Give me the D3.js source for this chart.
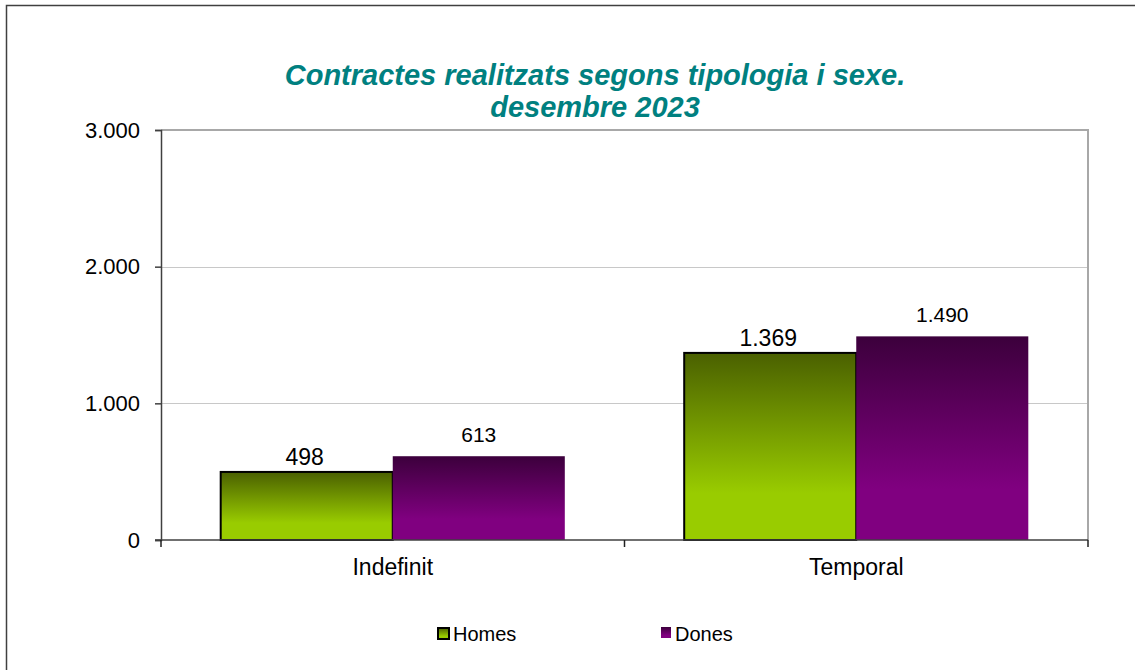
<!DOCTYPE html>
<html>
<head>
<meta charset="utf-8">
<script src="https://cdn.jsdelivr.net/npm/d3@7"></script>
<style>
  body { margin: 0; background: #fff; }
  svg { display: block; font-family: Arial, "Liberation Sans", sans-serif; }
</style>
</head>
<body>
<div id="chart"></div>
<script>
let width = 1135;
let height = 670;
let margin = ({top: 130, right: 47, bottom: 130, left: 161});

// data
let categories = ["Indefinit", "Temporal"];
let series = ["Homes", "Dones"];
let homes = [498, 1369];
let dones = [613, 1490];
let yTicks = [0, 1000, 2000, 3000];
let titleLines = ["Contractes realitzats segons tipologia i sexe.", "desembre 2023"];

let values = {Homes: homes, Dones: dones};
let data = categories.map((c, i) => ({cat: c, vals: series.map(s => ({key: s, value: values[s][i]}))}));

let fmt = d3.formatLocale({decimal: ",", thousands: ".", grouping: [3]}).format(",");

let x = d3.scaleBand()
    .domain(categories)
    .range([margin.left, width - margin.right])
    .paddingInner(0).paddingOuter(0);
let x1 = d3.scaleBand()
    .domain(series)
    .range([0, x.bandwidth()])
    .paddingInner(0)
    .paddingOuter(0.347);
let y = d3.scaleLinear()
    .domain([0, 3000])
    .range([height - margin.bottom, margin.top]);

let svg = d3.select("#chart").append("svg")
    .attr("width", width)
    .attr("height", height)
    .attr("viewBox", [0, 0, width, height]);

let defs = svg.append("defs");
function grad(id, top, bottom) {
  let g = defs.append("linearGradient").attr("id", id)
      .attr("x1", 0).attr("y1", 0).attr("x2", 0).attr("y2", 1);
  g.append("stop").attr("offset", "0%").attr("stop-color", top);
  g.append("stop").attr("offset", "75%").attr("stop-color", bottom);
  g.append("stop").attr("offset", "100%").attr("stop-color", bottom);
}
grad("gHomes", "#4a6000", "#99cc00");
grad("gDones", "#3c003c", "#800080");
let fills = {Homes: "url(#gHomes)", Dones: "url(#gDones)"};

// outer frame (only left and top visible)
svg.append("path")
    .attr("d", `M6.5,${height + 5}V5.5H${width + 5}`)
    .attr("fill", "none")
    .attr("stroke", "#404040")
    .attr("stroke-width", 1.5);

// title
svg.append("g")
    .attr("fill", "#008080")
    .attr("font-size", 29)
    .attr("font-weight", "bold")
    .attr("font-style", "italic")
    .attr("text-anchor", "middle")
    .selectAll("text")
    .data(titleLines)
    .join("text")
    .attr("x", 595)
    .attr("y", (d, i) => 85 + i * 32)
    .text(d => d);

// gridlines
svg.append("g")
    .attr("stroke", "#c8c8c8")
    .selectAll("line")
    .data(yTicks.filter(t => t > 0 && t < 3000))
    .join("line")
    .attr("x1", margin.left).attr("x2", width - margin.right)
    .attr("y1", d => Math.round(y(d)) + 0.5).attr("y2", d => Math.round(y(d)) + 0.5);

// plot area top/right border
svg.append("path")
    .attr("d", `M${margin.left},${y(3000)}H${width - margin.right}V${y(0)}`)
    .attr("fill", "none")
    .attr("stroke", "#a8a8a8")
    .attr("stroke-width", 2);

// bars
let groups = svg.append("g")
    .selectAll("g")
    .data(data)
    .join("g")
    .attr("transform", d => `translate(${x(d.cat)},0)`);

groups.selectAll("rect")
    .data(d => d.vals)
    .join("rect")
    .attr("x", d => x1(d.key))
    .attr("y", d => y(d.value))
    .attr("width", x1.bandwidth())
    .attr("height", d => y(0) - y(d.value))
    .attr("fill", d => fills[d.key])
    .attr("stroke", d => d.key === "Homes" ? "#000" : "none")
    .attr("stroke-width", 2);

groups.selectAll("text")
    .data(d => d.vals)
    .join("text")
    .attr("x", d => x1(d.key) + x1.bandwidth() / 2 - (d.key === "Homes" ? 2 : 0))
    .attr("y", d => y(d.value) - (d.key === "Homes" ? 7 : 14))
    .attr("text-anchor", "middle")
    .attr("font-size", d => d.key === "Homes" ? 23 : 21)
    .attr("fill", "#000")
    .text(d => fmt(d.value));

// y axis
let yAxis = svg.append("g")
    .attr("transform", `translate(${margin.left},0)`)
    .call(d3.axisLeft(y).tickValues(yTicks).tickFormat(fmt).tickSize(6).tickPadding(15));
yAxis.attr("font-family", null);
yAxis.selectAll("text").attr("font-size", 22).attr("fill", "#000");
yAxis.selectAll("line, path").attr("stroke", "#404040").attr("stroke-width", 1.5);

// x axis with ticks at category boundaries
let xAxis = svg.append("g")
    .attr("transform", `translate(0,${y(0)})`);
xAxis.append("line")
    .attr("x1", margin.left - 6).attr("x2", width - margin.right)
    .attr("stroke", "#404040").attr("stroke-width", 1.5);
let bounds = categories.map(c => x(c)).concat([x(categories[categories.length - 1]) + x.bandwidth()]);
xAxis.selectAll("line.tick")
    .data(bounds)
    .join("line")
    .attr("class", "tick")
    .attr("x1", d => d).attr("x2", d => d)
    .attr("y1", 0).attr("y2", 7)
    .attr("stroke", "#202020").attr("stroke-width", 1.5);
xAxis.selectAll("text")
    .data(categories)
    .join("text")
    .attr("x", d => x(d) + x.bandwidth() / 2)
    .attr("y", 35)
    .attr("text-anchor", "middle")
    .attr("font-size", 23)
    .text(d => d);

// legend
let legendX = {Homes: 437, Dones: 661};
let legend = svg.append("g")
    .selectAll("g")
    .data(series)
    .join("g")
    .attr("transform", d => `translate(${legendX[d]},627)`);
legend.append("rect")
    .attr("x", d => d === "Homes" ? 1 : 0)
    .attr("y", d => d === "Homes" ? 1 : 0)
    .attr("width", d => d === "Homes" ? 11 : 10)
    .attr("height", 11)
    .attr("fill", d => fills[d])
    .attr("stroke", d => d === "Homes" ? "#000" : "none")
    .attr("stroke-width", 2);
legend.append("text")
    .attr("x", d => d === "Homes" ? 16 : 14)
    .attr("y", 14)
    .attr("font-size", 20)
    .text(d => d);
</script>
</body>
</html>
